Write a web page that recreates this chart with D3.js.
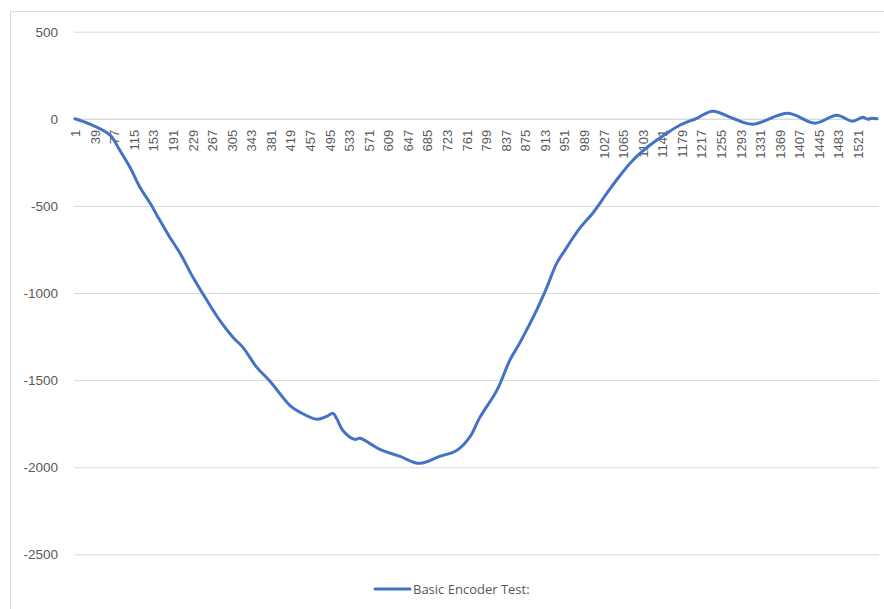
<!DOCTYPE html>
<html>
<head>
<meta charset="utf-8">
<script src="https://cdn.jsdelivr.net/npm/d3@7"></script>
<style>
  body { margin: 0; background: #fff; }
  svg { display: block; font-family: "Open Sans", sans-serif; }
</style>
</head>
<body>
<div id="chart"></div>
<script>
// sampled readings: category index and encoder value
const categories = [1, 30, 69, 88, 108, 127, 147, 160, 185, 205, 230, 257, 282, 308, 327, 354, 380,
  418, 438, 471, 490, 502, 509, 521, 544, 554, 573, 593, 632, 670, 709, 742, 767, 787, 820, 845, 864,
  897, 917, 936, 952, 981, 1006, 1033, 1058, 1084, 1117, 1150, 1175, 1208, 1239, 1278, 1317, 1385,
  1437, 1480, 1511, 1530, 1540, 1548, 1558];
const values = [0, -31, -94, -181, -280, -393, -485, -553, -680, -772, -910, -1042, -1157, -1255, -1312,
  -1427, -1508, -1645, -1685, -1725, -1708, -1691, -1720, -1789, -1840, -1834, -1863, -1898,
  -1938, -1978, -1938, -1904, -1829, -1714, -1559, -1387, -1289, -1100, -968, -830, -755, -628, -542,
  -430, -330, -238, -152, -83, -37, 3, 44, 3, -31, 32, -25, 21, -14, 9, -2, 3, 0];
const xTickLabels = [1, 39, 77, 115, 153, 191, 229, 267, 305, 343, 381, 419, 457, 495, 533, 571, 609,
  647, 685, 723, 761, 799, 837, 875, 913, 951, 989, 1027, 1065, 1103, 1141, 1179, 1217, 1255, 1293,
  1331, 1369, 1407, 1445, 1483, 1521];
const yTickLabels = [-2500, -2000, -1500, -1000, -500, 0, 500];
const seriesName = "Basic Encoder Test:";

const width = 884, height = 609;
const plot = { left: 75, right: 877, top: 31.7, bottom: 554.3 };
const gridColor = "#d9d9d9", textColor = "#595959", lineColor = "#4472c4";

const data = categories.map((c, i) => ({ c, v: values[i] }));

const svg = d3.select("#chart").append("svg")
  .attr("width", width).attr("height", height);

// chart frame
svg.append("rect")
  .attr("x", 10.5).attr("y", 11.5)
  .attr("width", 900).attr("height", 620)
  .attr("fill", "none").attr("stroke", gridColor);

const x = d3.scaleLinear().domain([1, 1558]).range([plot.left, plot.right]);
const y = d3.scaleLinear().domain([-2500, 500]).range([plot.bottom, plot.top]);

// y axis + gridlines (plain hyphen, no thousands separator)
const yAxis = svg.append("g")
  .attr("transform", `translate(${plot.left - 1},0)`)
  .call(d3.axisLeft(y).tickValues(yTickLabels).tickFormat(d => String(d))
    .tickSize(-(plot.right - plot.left + 3)).tickPadding(16));
yAxis.select(".domain").remove();
yAxis.selectAll("line").attr("stroke", gridColor);
yAxis.selectAll("text")
  .attr("fill", textColor)
  .style("font-size", "13.5px");

// x axis at zero, vertical labels
const xAxis = svg.append("g")
  .attr("transform", `translate(0,${y(0)})`)
  .call(d3.axisBottom(x).tickValues(xTickLabels).tickFormat(d => String(d))
    .tickSize(0).tickSizeOuter(0));
xAxis.select(".domain").attr("stroke", gridColor);
xAxis.selectAll("text")
  .attr("fill", textColor)
  .style("font-size", "13px")
  .attr("transform", "rotate(-90)")
  .attr("text-anchor", "end")
  .attr("x", -11)
  .attr("y", 0)
  .attr("dy", "0.35em");

// series line
const line = d3.line()
  .x(d => x(d.c))
  .y(d => y(d.v))
  .curve(d3.curveCatmullRom.alpha(0.5));

svg.append("path")
  .datum(data)
  .attr("fill", "none")
  .attr("stroke", lineColor)
  .attr("stroke-width", 3)
  .attr("stroke-linejoin", "round")
  .attr("stroke-linecap", "round")
  .attr("d", line);

// legend
const legend = svg.append("g").attr("transform", "translate(375,589)");
legend.append("line")
  .attr("x1", 0).attr("x2", 35)
  .attr("stroke", lineColor).attr("stroke-width", 3).attr("stroke-linecap", "round");
legend.append("text")
  .attr("x", 38).attr("dy", "0.35em")
  .attr("fill", textColor)
  .style("font-size", "13px")
  .text(seriesName);
</script>
</body>
</html>
